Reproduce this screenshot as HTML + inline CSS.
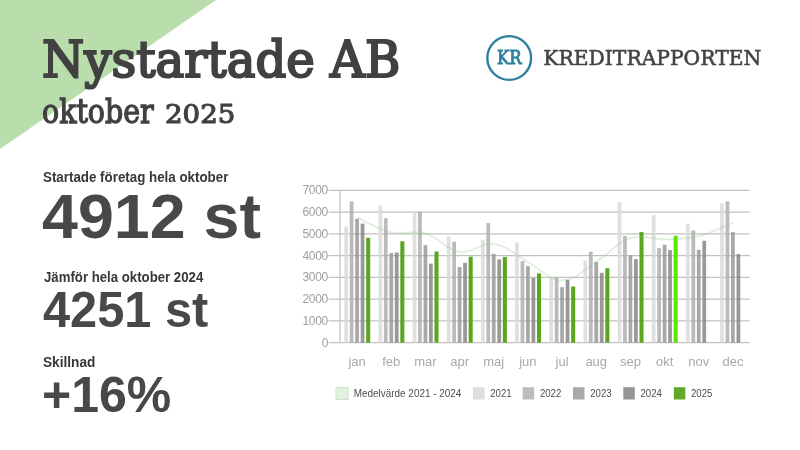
<!DOCTYPE html>
<html lang="sv">
<head>
<meta charset="utf-8">
<title>Nystartade AB oktober 2025</title>
<style>
html,body{margin:0;padding:0;}
body{width:800px;height:450px;position:relative;overflow:hidden;background:#fff;color:#444;font-family:"Liberation Sans",sans-serif;}
.tri{position:absolute;left:0;top:0;width:216px;height:149px;}
.abs{position:absolute;white-space:nowrap;line-height:1;transform-origin:0 0;}
.slab{font-family:"DejaVu Serif","Liberation Serif",serif;}
.h1{left:42px;top:35.2px;font-size:50px;transform:scaleX(0.964);color:#414141;-webkit-text-stroke:2.2px #414141;}
.h2{left:42px;top:95.3px;font-size:33px;transform:scaleX(0.863);color:#414141;-webkit-text-stroke:1.3px #414141;}
.h2n{left:164.6px;top:102.3px;font-size:25.6px;transform:scaleX(1.08);color:#414141;-webkit-text-stroke:1.1px #414141;}
.lab{font-weight:bold;font-size:14px;color:#373737;}
.big{font-weight:bold;color:#484848;}
.chart{position:absolute;left:0;top:0;}
.chart text{font-family:"Liberation Sans",sans-serif;}
.yl{font-size:12px;fill:#9e9e9e;letter-spacing:-0.3px;}
.xl{font-size:13px;fill:#a9a9a9;}
.lg{font-size:11px;fill:#4d4d4d;}
.logo{position:absolute;left:0;top:0;}
</style>
</head>
<body>
<svg class="tri" viewBox="0 0 216 149"><polygon points="0,0 216,0 0,149" fill="#b9ddab"/></svg>
<div class="abs slab h1">Nystartade AB</div>
<div class="abs slab h2">oktober</div>
<div class="abs slab h2n">2025</div>

<svg class="logo" width="800" height="110" viewBox="0 0 800 110">
<circle cx="509.2" cy="58" r="21.9" fill="none" stroke="#2e7f9e" stroke-width="2.4"/>
<text x="509.4" y="64.4" text-anchor="middle" font-family="'DejaVu Serif','Liberation Serif',serif" font-size="18.6" fill="#2e7f9e" stroke="#2e7f9e" stroke-width="0.9" textLength="24.6" lengthAdjust="spacingAndGlyphs">KR</text>
<text x="543.3" y="65.4" font-family="'DejaVu Serif','Liberation Serif',serif" font-size="21.2" fill="#444" stroke="#444" stroke-width="0.6" textLength="218" lengthAdjust="spacingAndGlyphs">KREDITRAPPORTEN</text>
</svg>

<div class="abs lab" id="l1" style="left:43px;top:169.8px;transform:scaleX(0.953);">Startade företag hela oktober</div>
<div class="abs big" id="b1" style="left:41.5px;top:184.5px;font-size:63.3px;transform:scaleX(1.02);">4912 st</div>
<div class="abs lab" id="l2" style="left:43.5px;top:269.5px;transform:scaleX(0.943);">Jämför hela oktober 2024</div>
<div class="abs big" id="b2" style="left:42.5px;top:285px;font-size:50px;transform:scaleX(0.975);">4251 st</div>
<div class="abs lab" id="l3" style="left:43px;top:354.6px;transform:scaleX(0.975);">Skillnad</div>
<div class="abs big" id="b3" style="left:42px;top:369.5px;font-size:50px;">+16%</div>

<svg class="chart" width="800" height="450" viewBox="0 0 800 450">
<line x1="328.5" x2="750.0" y1="342.70" y2="342.70" stroke="#c2c2c2" stroke-width="1.25"/>
<line x1="328.5" x2="750.0" y1="320.93" y2="320.93" stroke="#c2c2c2" stroke-width="1.25"/>
<line x1="328.5" x2="750.0" y1="299.16" y2="299.16" stroke="#c2c2c2" stroke-width="1.25"/>
<line x1="328.5" x2="750.0" y1="277.39" y2="277.39" stroke="#c2c2c2" stroke-width="1.25"/>
<line x1="328.5" x2="750.0" y1="255.62" y2="255.62" stroke="#c2c2c2" stroke-width="1.25"/>
<line x1="328.5" x2="750.0" y1="233.84" y2="233.84" stroke="#c2c2c2" stroke-width="1.25"/>
<line x1="328.5" x2="750.0" y1="212.07" y2="212.07" stroke="#c2c2c2" stroke-width="1.25"/>
<line x1="328.5" x2="750.0" y1="190.30" y2="190.30" stroke="#c2c2c2" stroke-width="1.25"/>
<line x1="340.0" x2="340.0" y1="190.30" y2="342.7" stroke="#c2c2c2" stroke-width="1.25"/>
<rect x="344.28" y="226.66" width="3.75" height="116.04" fill="rgba(216,216,216,0.8)"/>
<rect x="378.44" y="205.32" width="3.75" height="137.38" fill="rgba(216,216,216,0.8)"/>
<rect x="412.61" y="212.51" width="3.75" height="130.19" fill="rgba(216,216,216,0.8)"/>
<rect x="446.78" y="236.24" width="3.75" height="106.46" fill="rgba(216,216,216,0.8)"/>
<rect x="480.94" y="239.72" width="3.75" height="102.98" fill="rgba(216,216,216,0.8)"/>
<rect x="515.11" y="242.55" width="3.75" height="100.15" fill="rgba(216,216,216,0.8)"/>
<rect x="549.27" y="277.39" width="3.75" height="65.31" fill="rgba(216,216,216,0.8)"/>
<rect x="583.44" y="260.62" width="3.75" height="82.08" fill="rgba(216,216,216,0.8)"/>
<rect x="617.61" y="202.06" width="3.75" height="140.64" fill="rgba(216,216,216,0.8)"/>
<rect x="651.77" y="214.69" width="3.75" height="128.01" fill="rgba(216,216,216,0.8)"/>
<rect x="685.94" y="223.61" width="3.75" height="119.09" fill="rgba(216,216,216,0.8)"/>
<rect x="720.11" y="203.37" width="3.75" height="139.33" fill="rgba(216,216,216,0.8)"/>
<rect x="349.74" y="201.41" width="3.75" height="141.29" fill="rgba(170,170,170,0.8)"/>
<rect x="383.91" y="218.17" width="3.75" height="124.53" fill="rgba(170,170,170,0.8)"/>
<rect x="418.07" y="211.86" width="3.75" height="130.84" fill="rgba(170,170,170,0.8)"/>
<rect x="452.24" y="241.68" width="3.75" height="101.02" fill="rgba(170,170,170,0.8)"/>
<rect x="486.41" y="222.96" width="3.75" height="119.74" fill="rgba(170,170,170,0.8)"/>
<rect x="520.58" y="261.06" width="3.75" height="81.64" fill="rgba(170,170,170,0.8)"/>
<rect x="554.74" y="277.39" width="3.75" height="65.31" fill="rgba(170,170,170,0.8)"/>
<rect x="588.91" y="251.70" width="3.75" height="91.00" fill="rgba(170,170,170,0.8)"/>
<rect x="623.07" y="236.02" width="3.75" height="106.68" fill="rgba(170,170,170,0.8)"/>
<rect x="657.24" y="248.00" width="3.75" height="94.70" fill="rgba(170,170,170,0.8)"/>
<rect x="691.41" y="230.36" width="3.75" height="112.34" fill="rgba(170,170,170,0.8)"/>
<rect x="725.57" y="201.41" width="3.75" height="141.29" fill="rgba(170,170,170,0.8)"/>
<rect x="355.21" y="218.82" width="3.75" height="123.88" fill="rgba(146,146,146,0.8)"/>
<rect x="389.38" y="253.00" width="3.75" height="89.70" fill="rgba(146,146,146,0.8)"/>
<rect x="423.54" y="245.17" width="3.75" height="97.53" fill="rgba(146,146,146,0.8)"/>
<rect x="457.71" y="266.94" width="3.75" height="75.76" fill="rgba(146,146,146,0.8)"/>
<rect x="491.88" y="253.87" width="3.75" height="88.83" fill="rgba(146,146,146,0.8)"/>
<rect x="526.04" y="266.07" width="3.75" height="76.63" fill="rgba(146,146,146,0.8)"/>
<rect x="560.21" y="287.18" width="3.75" height="55.52" fill="rgba(146,146,146,0.8)"/>
<rect x="594.37" y="261.93" width="3.75" height="80.77" fill="rgba(146,146,146,0.8)"/>
<rect x="628.54" y="255.40" width="3.75" height="87.30" fill="rgba(146,146,146,0.8)"/>
<rect x="662.71" y="244.73" width="3.75" height="97.97" fill="rgba(146,146,146,0.8)"/>
<rect x="696.87" y="249.74" width="3.75" height="92.96" fill="rgba(146,146,146,0.8)"/>
<rect x="731.04" y="232.10" width="3.75" height="110.60" fill="rgba(146,146,146,0.8)"/>
<rect x="360.68" y="223.61" width="3.75" height="119.09" fill="rgba(127,127,127,0.8)"/>
<rect x="394.84" y="252.57" width="3.75" height="90.13" fill="rgba(127,127,127,0.8)"/>
<rect x="429.01" y="263.67" width="3.75" height="79.03" fill="rgba(127,127,127,0.8)"/>
<rect x="463.18" y="262.80" width="3.75" height="79.90" fill="rgba(127,127,127,0.8)"/>
<rect x="497.34" y="259.32" width="3.75" height="83.38" fill="rgba(127,127,127,0.8)"/>
<rect x="531.51" y="278.04" width="3.75" height="64.66" fill="rgba(127,127,127,0.8)"/>
<rect x="565.67" y="279.78" width="3.75" height="62.92" fill="rgba(127,127,127,0.8)"/>
<rect x="599.84" y="272.82" width="3.75" height="69.88" fill="rgba(127,127,127,0.8)"/>
<rect x="634.01" y="259.10" width="3.75" height="83.60" fill="rgba(127,127,127,0.8)"/>
<rect x="668.17" y="250.15" width="3.75" height="92.55" fill="rgba(127,127,127,0.8)"/>
<rect x="702.34" y="240.81" width="3.75" height="101.89" fill="rgba(127,127,127,0.8)"/>
<rect x="736.51" y="254.09" width="3.75" height="88.61" fill="rgba(127,127,127,0.8)"/>
<rect x="366.14" y="237.76" width="4.05" height="104.94" fill="#5aa61e"/>
<rect x="400.31" y="241.25" width="4.05" height="101.45" fill="#5aa61e"/>
<rect x="434.47" y="251.48" width="4.05" height="91.22" fill="#5aa61e"/>
<rect x="468.64" y="256.70" width="4.05" height="86.00" fill="#5aa61e"/>
<rect x="502.81" y="256.92" width="4.05" height="85.78" fill="#5aa61e"/>
<rect x="536.98" y="273.47" width="4.05" height="69.23" fill="#5aa61e"/>
<rect x="571.14" y="286.53" width="4.05" height="56.17" fill="#5aa61e"/>
<rect x="605.31" y="268.24" width="4.05" height="74.46" fill="#5aa61e"/>
<rect x="639.47" y="232.10" width="4.05" height="110.60" fill="#5aa61e"/>
<rect x="673.64" y="235.76" width="4.05" height="106.94" fill="#58e800"/>
<path d="M357.08,217.63 C370.75,223.48 377.01,229.00 391.25,232.27 C404.34,235.27 412.63,229.63 425.42,233.30 C439.97,237.48 445.21,249.67 459.58,251.91 C472.54,253.94 480.74,242.06 493.75,243.97 C508.07,246.07 514.30,254.66 527.92,261.93 C541.63,269.25 548.43,280.47 562.08,280.43 C575.76,280.40 583.03,269.95 596.25,261.77 C610.36,253.03 615.42,243.05 630.42,238.14 C642.76,234.10 650.94,239.79 664.58,239.39 C678.28,238.99 685.54,239.35 698.75,236.13 C712.87,232.69 719.25,228.10 732.92,222.74" fill="none" stroke="rgba(135,200,125,0.28)" stroke-width="1.8"/>
<text class="yl" x="328" y="346.60" text-anchor="end">0</text>
<text class="yl" x="328" y="324.83" text-anchor="end">1000</text>
<text class="yl" x="328" y="303.06" text-anchor="end">2000</text>
<text class="yl" x="328" y="281.29" text-anchor="end">3000</text>
<text class="yl" x="328" y="259.52" text-anchor="end">4000</text>
<text class="yl" x="328" y="237.75" text-anchor="end">5000</text>
<text class="yl" x="328" y="215.97" text-anchor="end">6000</text>
<text class="yl" x="328" y="194.20" text-anchor="end">7000</text>
<text class="xl" x="357.08" y="365.6" text-anchor="middle">jan</text>
<text class="xl" x="391.25" y="365.6" text-anchor="middle">feb</text>
<text class="xl" x="425.42" y="365.6" text-anchor="middle">mar</text>
<text class="xl" x="459.58" y="365.6" text-anchor="middle">apr</text>
<text class="xl" x="493.75" y="365.6" text-anchor="middle">maj</text>
<text class="xl" x="527.92" y="365.6" text-anchor="middle">jun</text>
<text class="xl" x="562.08" y="365.6" text-anchor="middle">jul</text>
<text class="xl" x="596.25" y="365.6" text-anchor="middle">aug</text>
<text class="xl" x="630.42" y="365.6" text-anchor="middle">sep</text>
<text class="xl" x="664.58" y="365.6" text-anchor="middle">okt</text>
<text class="xl" x="698.75" y="365.6" text-anchor="middle">nov</text>
<text class="xl" x="732.92" y="365.6" text-anchor="middle">dec</text>
<rect x="336" y="387.5" width="12" height="12" fill="#e3f2e0" stroke="#c9e6c4" stroke-width="1"/>
<text class="lg" x="353.8" y="397.2" textLength="107.5" lengthAdjust="spacingAndGlyphs">Medelvärde 2021 - 2024</text>
<rect x="473" y="387.2" width="11.5" height="12.3" fill="#dedede"/>
<text class="lg" x="490.2" y="397.2" textLength="21.4" lengthAdjust="spacingAndGlyphs">2021</text>
<rect x="522.7" y="387.2" width="11.5" height="12.3" fill="#bdbdbd"/>
<text class="lg" x="539.9000000000001" y="397.2" textLength="21.4" lengthAdjust="spacingAndGlyphs">2022</text>
<rect x="573" y="387.2" width="11.5" height="12.3" fill="#a9a9a9"/>
<text class="lg" x="590.2" y="397.2" textLength="21.4" lengthAdjust="spacingAndGlyphs">2023</text>
<rect x="623.3" y="387.2" width="11.5" height="12.3" fill="#959595"/>
<text class="lg" x="640.5" y="397.2" textLength="21.4" lengthAdjust="spacingAndGlyphs">2024</text>
<rect x="673.8" y="387.2" width="11.5" height="12.3" fill="#62a92a"/>
<text class="lg" x="691.0" y="397.2" textLength="21.4" lengthAdjust="spacingAndGlyphs">2025</text>
</svg>
</body>
</html>
